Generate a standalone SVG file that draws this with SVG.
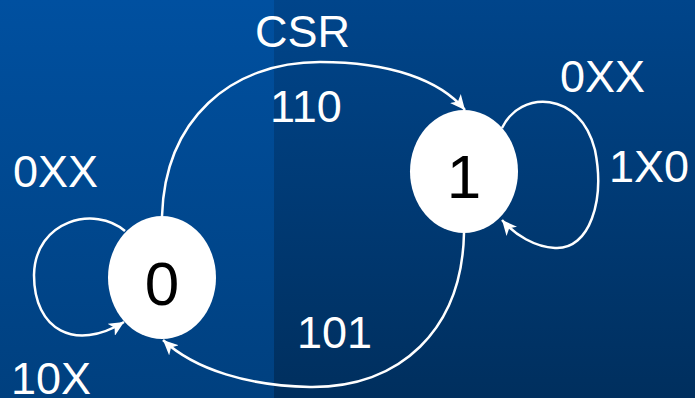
<svg xmlns="http://www.w3.org/2000/svg" width="695" height="398" viewBox="0 0 695 398">
<defs>
<linearGradient id="gl" x1="0" y1="0" x2="0" y2="1"><stop offset="0" stop-color="#0050a0"/><stop offset="1" stop-color="#00407f"/></linearGradient>
<linearGradient id="gr" x1="0" y1="0" x2="0" y2="1"><stop offset="0" stop-color="#00458b"/><stop offset="1" stop-color="#002f5e"/></linearGradient>
<marker id="ah" markerWidth="16" markerHeight="14" refX="15" refY="7" orient="auto" markerUnits="userSpaceOnUse"><path d="M0,0 L15,7 L0,14 L4,7 Z" fill="#fff"/></marker>
</defs>
<style>
.lbl{font-family:"Liberation Sans",Arial,sans-serif;font-size:45px;fill:#fff}
.st{fill:#fff}
.stt{font-family:"Liberation Sans",Arial,sans-serif;font-size:62px;fill:#000;text-anchor:middle}
.e{fill:none;stroke:#fff;stroke-width:2.5;marker-end:url(#ah)}
</style>
<rect x="0" y="0" width="274" height="398" fill="url(#gl)"/>
<rect x="274" y="0" width="421" height="398" fill="url(#gr)"/>
<g id="connectors">
<path class="e" d="M162,216 C165,120 230,62 320,62 C390,62 440,80 465,110"/>
<path class="e" d="M464,233 C462,330 400,388 310,387 C250,386 195,370 163,340"/>
<path class="e" d="M125,231 C95,205 35,220 34,275 C34,330 75,352 124,322"/>
<path class="e" d="M502,128 C520,90 580,90 595,150 C605,200 590,250 555,248 C535,247 515,235 502,220"/>
</g>
<g id="node0"><ellipse class="st" cx="162" cy="277.5" rx="54" ry="61.5"/><text class="stt" x="162" y="305">0</text></g>
<g id="node1"><ellipse class="st" cx="464" cy="171.5" rx="54" ry="61.5"/><text class="stt" x="464" y="198">1</text></g>
<g id="labels">
<text class="lbl" x="255" y="47">CSR</text>
<text class="lbl" x="270" y="122">110</text>
<text class="lbl" x="297" y="348">101</text>
<text class="lbl" x="13" y="187">0XX</text>
<text class="lbl" x="11" y="394">10X</text>
<text class="lbl" x="560" y="92">0XX</text>
<text class="lbl" x="609" y="182">1X0</text>
</g>
</svg>
